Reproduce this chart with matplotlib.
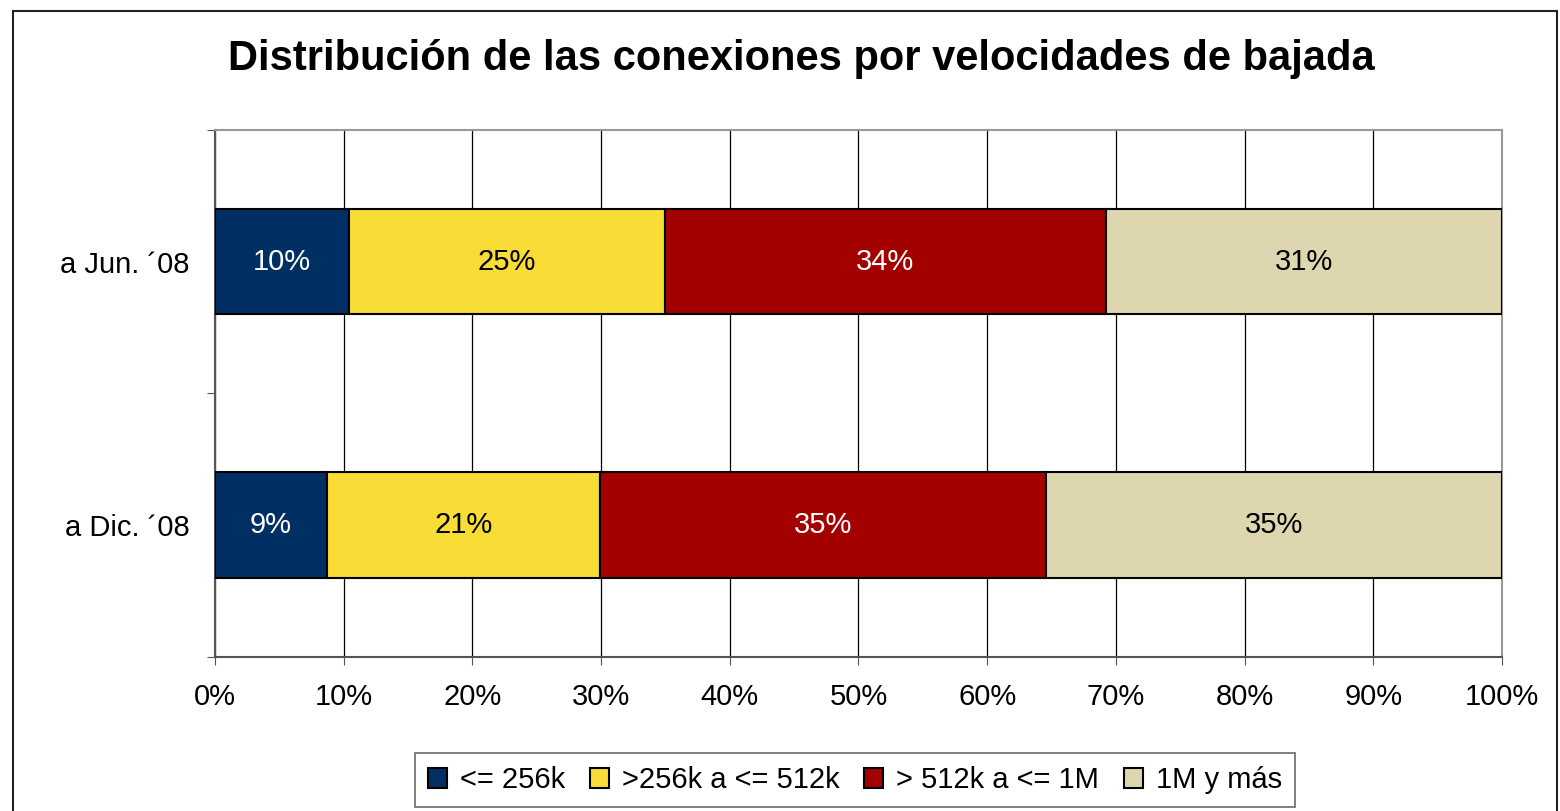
import matplotlib

matplotlib.use("Agg")
import matplotlib.pyplot as plt  # noqa: E402
from matplotlib.patches import Rectangle  # noqa: E402

plt.rcParams["font.family"] = ["Liberation Sans", "DejaVu Sans"]

# data (bottom to top)
periods = ["a Dic. \u00b408", "a Jun. \u00b408"]
series = ["<= 256k", ">256k a <= 512k", "> 512k a <= 1M", "1M y m\u00e1s"]
values = {
    "<= 256k": [8.7, 10.4],
    ">256k a <= 512k": [21.2, 24.6],
    "> 512k a <= 1M": [34.7, 34.2],
    "1M y m\u00e1s": [35.4, 30.8],
}
colors = ["#003063", "#f7dd36", "#a30000", "#ddd6ae"]
text_colors = ["white", "black", "white", "black"]

fig = plt.figure(figsize=(15.6, 8.11), dpi=100)
ax = fig.add_axes([0.1378, 0.19, 0.825, 0.65])

left = [0.0, 0.0]
ypos = list(range(len(periods)))
for name, col, tcol in zip(series, colors, text_colors):
    vals = values[name]
    bars = ax.barh(ypos, vals, left=left, height=0.4, color=col,
                   edgecolor="black", linewidth=1.5, label=name, zorder=3)
    for b, v in zip(bars, vals):
        ax.text(b.get_x() + b.get_width() / 2, b.get_y() + b.get_height() / 2,
                f"{round(v):.0f}%", ha="center", va="center",
                color=tcol, fontsize=21, zorder=4)
    left = [l + v for l, v in zip(left, vals)]

ax.set_xlim(0, 100)
ax.set_ylim(-0.5, 1.5)
ax.set_xticks(range(0, 101, 10))
ax.set_xticklabels([f"{t}%" for t in range(0, 101, 10)], fontsize=21)
ax.set_yticks([-0.5, 0.5, 1.5])
ax.set_yticklabels([])
ax.set_yticks(ypos, minor=True)
ax.set_yticklabels(periods, minor=True, fontsize=21)
ax.tick_params(axis="y", which="minor", length=0, pad=18)
ax.tick_params(axis="y", which="major", length=6, color="#555555")
ax.tick_params(axis="x", length=6, pad=13, color="#555555")
ax.grid(axis="x", color="black", linewidth=0.9, zorder=0)

for side in ["top", "right"]:
    ax.spines[side].set_color("#999999")
for side in ["left", "bottom"]:
    ax.spines[side].set_color("#555555")
for s in ax.spines.values():
    s.set_linewidth(1.5)

fig.text(0.5135, 0.927, "Distribuci\u00f3n de las conexiones por velocidades de bajada",
         ha="center", va="center", fontsize=30, fontweight="bold")

leg = fig.legend(loc="center", bbox_to_anchor=(0.548, 0.038), ncol=4,
                 fontsize=21, frameon=True, fancybox=False, edgecolor="#444444",
                 handlelength=0.65, handleheight=0.65, handletextpad=0.45,
                 columnspacing=0.85, borderpad=0.45)
leg.get_frame().set_linewidth(1.2)

fig.patches.append(Rectangle((13 / 1560, -0.05), 1544 / 1560, 1.05 - 11 / 811,
                             transform=fig.transFigure, fill=False,
                             edgecolor="#222222", linewidth=1.5))

fig.savefig("out.png", dpi=100)
